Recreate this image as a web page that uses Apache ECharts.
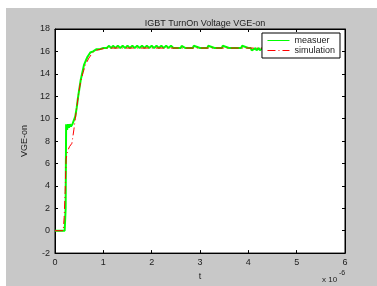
<!DOCTYPE html>
<html>
<head>
<meta charset="utf-8">
<script src="https://cdn.jsdelivr.net/npm/echarts@6/dist/echarts.min.js"></script>
<style>
  html, body { margin: 0; padding: 0; background: #fff; }
  #chart { width: 377px; height: 286px; }
</style>
</head>
<body>
<div id="chart"></div>
<script>
// time in units of 1e-6 s
const xTicks = [0, 1, 2, 3, 4, 5, 6]
const yTicks = [-2, 0, 2, 4, 6, 8, 10, 12, 14, 16, 18]

// measured VGE (green)
const tMeas = [0, 0.1, 0.2, 0.22, 0.23, 0.25, 0.27, 0.29, 0.31, 0.33, 0.36, 0.39, 0.42, 0.45, 0.48, 0.53, 0.6, 0.67, 0.73, 0.79, 0.86, 0.93, 1.0, 1.07,
  1.12, 1.16, 1.2, 1.25, 1.3, 1.35, 1.4, 1.45, 1.5, 1.55, 1.6, 1.65, 1.7, 1.75, 1.8, 1.85, 1.9, 1.95, 2.0, 2.05, 2.1, 2.15, 2.2, 2.25, 2.3, 2.35, 2.4, 2.45,
  2.5, 2.6, 2.62, 2.7, 2.85, 2.87, 3.0, 3.15, 3.17, 3.3, 3.45, 3.47, 3.6, 3.85, 3.87, 4.0, 4.05, 4.07, 4.15, 4.17, 4.22, 4.24, 4.3, 4.32, 4.4, 4.42, 4.6, 4.8]
const vMeas = [0, 0, 0, 2, 9.5, 9.0, 9.5, 9.2, 9.5, 9.3, 9.5, 9.4, 10.2, 11.0, 12.0, 13.4, 14.8, 15.5, 15.9, 16.0, 16.2, 16.2, 16.3, 16.3,
  16.5, 16.3, 16.5, 16.3, 16.5, 16.3, 16.5, 16.3, 16.5, 16.3, 16.5, 16.3, 16.5, 16.3, 16.5, 16.3, 16.5, 16.3, 16.5, 16.3, 16.5, 16.3, 16.5, 16.3, 16.5, 16.3, 16.5, 16.3,
  16.3, 16.3, 16.5, 16.3, 16.3, 16.5, 16.3, 16.3, 16.5, 16.3, 16.3, 16.5, 16.3, 16.3, 16.5, 16.3, 16.3, 16.1, 16.3, 16.1, 16.3, 16.1, 16.3, 16.1, 16.3, 16.1, 16.3, 16.3]

// simulation VGE (red)
const tSim = [0, 0.17, 0.19, 0.21, 0.23, 0.26, 0.3, 0.35, 0.39, 0.42, 0.45, 0.49, 0.53, 0.58, 0.63, 0.7, 0.78, 0.86, 0.95, 1.07, 1.3, 1.6, 2.0, 3.0, 4.0, 4.8]
const vSim = [0, 0, 1.2, 3.5, 6.4, 7.1, 7.5, 7.8, 9.0, 10.0, 11.0, 12.3, 13.3, 14.1, 14.8, 15.4, 15.9, 16.1, 16.2, 16.3, 16.3, 16.3, 16.3, 16.3, 16.3, 16.3]

const measData = tMeas.map((t, i) => [t, vMeas[i]])
const simData = tSim.map((t, i) => [t, vSim[i]])

const chart = echarts.init(document.getElementById('chart'))
const font = 'Liberation Sans, Arial, sans-serif'

const axisCommon = {
  axisLine: { show: true, onZero: false, lineStyle: { color: '#000', width: 1 } },
  axisTick: { show: true, inside: true, length: 3, lineStyle: { color: '#000' } },
  splitLine: { show: false }
}

const option = {
  animation: false,
  backgroundColor: '#fff',
  graphic: [
    { type: 'rect', z: -10, shape: { x: 6, y: 8, width: 371, height: 278 }, style: { fill: '#c8c8c8' } },
    { type: 'text', left: 322, top: 276, style: { text: 'x 10', fontSize: 8, fontFamily: font, fill: '#222' } },
    { type: 'text', left: 339, top: 270, style: { text: '-6', fontSize: 7, fontFamily: font, fill: '#222' } }
  ],
  title: {
    text: 'IGBT TurnOn Voltage VGE-on',
    left: 200, top: 14, textAlign: 'center',
    textStyle: { fontSize: 9, fontWeight: 'normal', color: '#222', fontFamily: font }
  },
  grid: {
    left: 55, right: 32, top: 29, bottom: 30,
    show: true, backgroundColor: '#fff', borderColor: '#000', borderWidth: 1
  },
  legend: {
    right: 37, top: 33, orient: 'vertical',
    itemWidth: 22, itemHeight: 8, itemGap: 1,
    padding: [3, 5, 3, 5],
    backgroundColor: '#fff', borderColor: '#000', borderWidth: 1,
    itemStyle: { opacity: 0 },
    lineStyle: { width: 1 },
    textStyle: { fontSize: 9, color: '#222', fontFamily: font },
    data: ['measuer', 'simulation']
  },
  xAxis: [
    Object.assign({
      type: 'value', min: 0, max: 6, interval: 1,
      name: 't', nameLocation: 'middle', nameGap: 17,
      nameTextStyle: { fontSize: 9, color: '#222', fontFamily: font },
      axisLabel: { fontSize: 9, color: '#222', margin: 5, fontFamily: font,
        formatter: v => xTicks.includes(v) ? String(v) : '' }
    }, axisCommon),
    Object.assign({
      type: 'value', min: 0, max: 6, interval: 1, position: 'top',
      axisLabel: { show: false }
    }, axisCommon)
  ],
  yAxis: [
    Object.assign({
      type: 'value', min: -2, max: 18, interval: 2,
      name: 'VGE-on', nameLocation: 'middle', nameGap: 22,
      nameTextStyle: { fontSize: 9, color: '#222', fontFamily: font },
      axisLabel: { fontSize: 9, color: '#222', margin: 5, fontFamily: font,
        formatter: v => yTicks.includes(v) ? String(v) : '' }
    }, axisCommon),
    Object.assign({
      type: 'value', min: -2, max: 18, interval: 2, position: 'right',
      axisLabel: { show: false }
    }, axisCommon)
  ],
  series: [
    {
      name: 'measuer', type: 'line', data: measData,
      showSymbol: false, symbol: 'none',
      lineStyle: { color: '#00ff00', width: 2 },
      itemStyle: { color: '#00ff00' }
    },
    {
      name: 'simulation', type: 'line', data: simData,
      showSymbol: false, symbol: 'none', z: 3,
      lineStyle: { color: '#ff0000', width: 1, type: [8, 3, 1, 3] },
      itemStyle: { color: '#ff0000' }
    }
  ]
}

chart.setOption(option)
</script>
</body>
</html>
